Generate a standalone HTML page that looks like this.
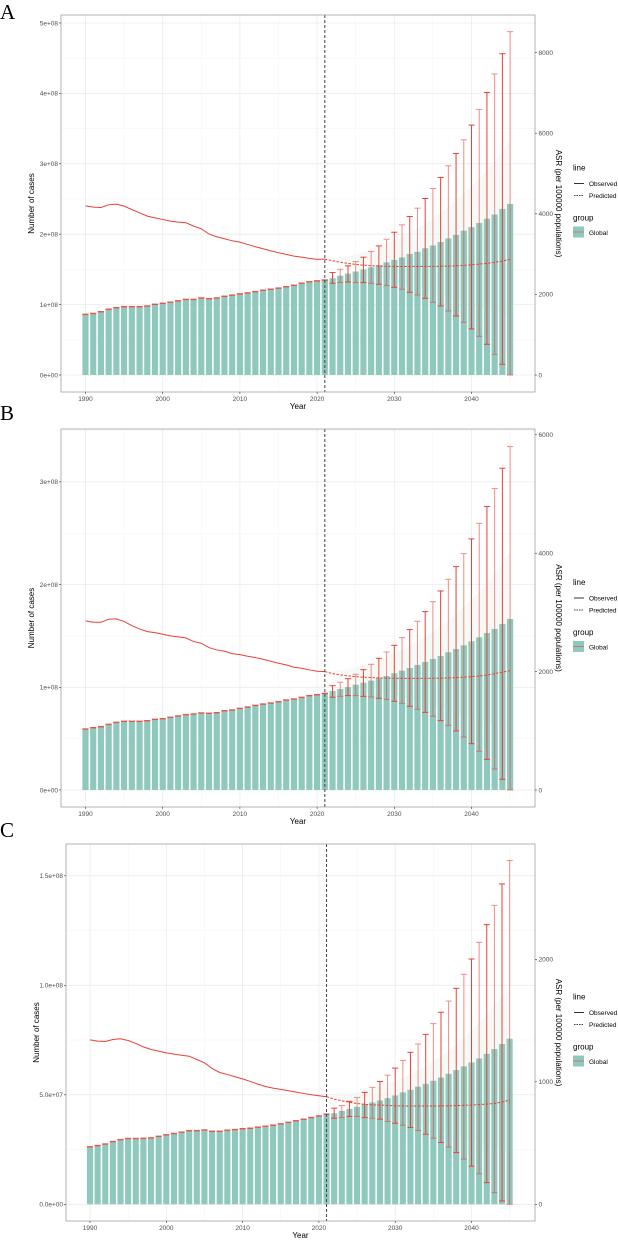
<!DOCTYPE html>
<html><head><meta charset="utf-8">
<style>
html,body{margin:0;padding:0;background:#fff;}
svg{display:block;font-family:"Liberation Sans",sans-serif;}
.pl{font-family:"Liberation Serif",serif;font-size:21px;fill:#000;}
</style></head>
<body>
<svg id="fig" width="618" height="1240" viewBox="0 0 618 1240">
<text class="pl" x="0" y="19">A</text>
<text class="pl" x="0" y="420">B</text>
<text class="pl" x="0" y="837">C</text>
</svg>
<script>
const years = [];
for (let y = 1990; y <= 2045; y++) years.push(y);
const predYears = [];
for (let y = 2022; y <= 2045; y++) predYears.push(y);
const xTicks = [1990, 2000, 2010, 2020, 2030, 2040];

// Panel A (cases in 1e8, ASR per 100000)
const casesA = [0.857,0.87,0.895,0.93,0.952,0.967,0.967,0.967,0.976,1.0,1.014,1.03,1.05,1.07,1.07,1.09,1.08,1.09,1.114,1.13,1.148,1.162,1.18,1.2,1.214,1.23,1.25,1.27,1.3,1.32,1.333,1.345,1.375,1.41,1.44,1.47,1.5,1.53,1.56,1.6,1.635,1.67,1.72,1.75,1.8,1.84,1.89,1.94,1.99,2.05,2.1,2.16,2.22,2.28,2.36,2.43];
const upperA = [1.455,1.502,1.55,1.611,1.673,1.754,1.834,1.929,2.028,2.133,2.251,2.37,2.507,2.649,2.806,2.972,3.147,3.341,3.55,3.773,4.014,4.275,4.564,4.877];
const lowerA = [1.303,1.313,1.322,1.313,1.313,1.303,1.289,1.27,1.246,1.218,1.175,1.137,1.09,1.033,0.981,0.91,0.839,0.749,0.654,0.55,0.436,0.294,0.152,0];
const asrA = [4198,4165,4157,4223,4240,4190,4107,4025,3942,3900,3860,3818,3793,3777,3694,3628,3496,3430,3380,3330,3297,3240,3182,3132,3083,3033,2992,2950,2926,2893,2868,2876];
const asrPredA = [2835,2800,2770,2745,2725,2712,2704,2698,2695,2693,2692,2692,2693,2695,2698,2703,2710,2720,2735,2752,2772,2796,2830,2870];
const ribUpA = [2950,3000,3050,3110,3180,3260,3340,3430,3530,3640,3760,3890,4030,4180,4340,4510,4690,4880,5080,5300,5540,5830];
const yTicksA = [0,1,2,3,4,5];
const yTickLabA = ["0e+00","1e+08","2e+08","3e+08","4e+08","5e+08"];
const rTicksA = [0,2000,4000,6000,8000];

// Panel B
const casesB = [0.591,0.604,0.614,0.636,0.656,0.666,0.666,0.666,0.672,0.685,0.692,0.705,0.718,0.731,0.737,0.747,0.744,0.75,0.769,0.776,0.792,0.805,0.821,0.834,0.844,0.857,0.873,0.883,0.899,0.916,0.925,0.938,0.964,0.984,1.003,1.026,1.045,1.065,1.088,1.11,1.136,1.162,1.188,1.218,1.247,1.276,1.305,1.341,1.373,1.409,1.448,1.487,1.529,1.568,1.617,1.666];
const upperB = [1.016,1.049,1.084,1.127,1.172,1.224,1.282,1.344,1.409,1.484,1.562,1.643,1.737,1.834,1.938,2.052,2.175,2.302,2.445,2.597,2.76,2.935,3.133,3.344];
const lowerB = [0.903,0.912,0.919,0.919,0.912,0.906,0.893,0.88,0.864,0.844,0.815,0.786,0.756,0.718,0.675,0.63,0.575,0.516,0.451,0.377,0.299,0.205,0.104,0];
const asrB = [2856,2834,2834,2885,2890,2845,2777,2721,2676,2659,2631,2603,2586,2569,2507,2479,2406,2366,2344,2304,2287,2259,2237,2208,2175,2141,2113,2073,2056,2028,2006,2000];
const asrPredB = [1966,1945,1928,1915,1906,1899,1893,1890,1887,1886,1885,1885,1886,1887,1889,1892,1899,1906,1915,1926,1940,1966,1990,2017];
const ribUpB = [2040,2075,2110,2150,2200,2250,2310,2370,2440,2510,2590,2680,2770,2870,2980,3100,3220,3350,3500,3660,3840,4028];
const yTicksB = [0,1,2,3];
const yTickLabB = ["0e+00","1e+08","2e+08","3e+08"];
const rTicksB = [0,2000,4000,6000];

// Panel C (cases in 1e7)
const casesC = [2.61,2.67,2.74,2.85,2.94,2.99,2.99,3.0,3.02,3.09,3.16,3.22,3.28,3.35,3.35,3.38,3.32,3.32,3.37,3.4,3.44,3.46,3.51,3.55,3.6,3.66,3.73,3.8,3.87,3.95,4.02,4.1,4.16,4.27,4.36,4.45,4.56,4.65,4.74,4.85,4.97,5.11,5.23,5.37,5.5,5.64,5.79,5.96,6.13,6.3,6.48,6.66,6.87,7.09,7.32,7.56];
const upperC = [4.39,4.51,4.7,4.88,5.11,5.34,5.61,5.9,6.22,6.57,6.94,7.32,7.76,8.25,8.77,9.28,9.86,10.5,11.2,11.96,12.77,13.65,14.63,15.7];
const lowerC = [3.93,3.96,4.01,4.01,3.96,3.93,3.89,3.78,3.7,3.61,3.51,3.37,3.2,3.02,2.82,2.61,2.36,2.06,1.74,1.39,0.99,0.53,0.15,0];
const asrC = [1342,1332,1329,1345,1351,1337,1313,1285,1264,1250,1236,1226,1217,1209,1182,1155,1109,1076,1060,1041,1024,1003,981,962,948,938,927,916,905,894,886,878];
const asrPredC = [859,845,833,823,816,812,810,807,804,803,802,802,802,802,803,804,806,808,810,814,818,823,835,851];
const ribUpC = [900,915,930,945,965,985,1010,1035,1065,1095,1130,1170,1210,1255,1305,1360,1420,1485,1555,1630,1700,1761];
const yTicksC = [0,5,10,15];
const yTickLabC = ["0.0e+00","5.0e+07","1.0e+08","1.5e+08"];
const rTicksC = [0,1000,2000];

const NS = "http://www.w3.org/2000/svg";
const svg = document.getElementById("fig");
function mk(tag, attrs, parent) {
  const e = document.createElementNS(NS, tag);
  for (const k in attrs) e.setAttribute(k, attrs[k]);
  (parent || svg).appendChild(e);
  return e;
}

function panel(cfg, cases, upper, lower, asr, asrPred, ribUp, yTicks, yLab, rTicks, key) {
  const g = mk("g", {});
  
  
  const X = y => cfg.x1990 + (y - 1990) * cfg.pxYear;
  const YL = v => cfg.y0 - v * cfg.pxLeft;
  const YR = v => cfg.y0 - v * cfg.pxRight;
  const grid = mk("g", {}, g);
  
  
  for (let yr = 1985; yr <= 2045; yr += 10) {
    const x = X(yr);
    if (x > cfg.left && x < cfg.right) mk("line", {x1:x, x2:x, y1:cfg.top, y2:cfg.bottom, stroke:"#f3f3f3", "stroke-width":0.5}, grid);
  }
  for (let i = 0; i < yTicks.length; i++) {
    const ym = YL(yTicks[i] + (yTicks[1] - yTicks[0]) / 2);
    if (ym > cfg.top) mk("line", {x1:cfg.left, x2:cfg.right, y1:ym, y2:ym, stroke:"#f3f3f3", "stroke-width":0.5}, grid);
  }
  xTicks.forEach(yr => { const x = X(yr); mk("line", {x1:x, x2:x, y1:cfg.top, y2:cfg.bottom, stroke:"#ebebeb", "stroke-width":0.8}, grid); });
  yTicks.forEach(v => { const y = YL(v); mk("line", {x1:cfg.left, x2:cfg.right, y1:y, y2:y, stroke:"#ebebeb", "stroke-width":0.8}, grid); });

  let pts = [];
  pts.push(X(2021) + "," + YR(asr[asr.length - 1]));
  for (let i = 0; i < ribUp.length; i++) pts.push(X(2024 + i) + "," + YR(ribUp[i]));
  pts.push(X(2045) + "," + YR(asrPred[asrPred.length - 1] * 0.5));
  pts.push(X(2021) + "," + YR(asr[asr.length - 1]));
  const rib = mk("polygon", {points:pts.join(" "), fill:"#eef6f1", opacity:0.55}, g);
  
  

  const bw = cfg.pxYear * 0.8;
  for (let i = 0; i < years.length; i++) {
    const yt = YL(cases[i]);
    const b = mk("rect", {x:X(years[i]) - bw / 2, y:yt, width:bw, height:cfg.y0 - yt, fill:"#8fc9be"}, g);
    
    
    if (years[i] <= 2021) {
      const c = mk("rect", {x:X(years[i]) - bw / 2, y:yt - 1, width:bw, height:1.4, fill:"#e8413b", opacity:0.9}, g);
      
      
    }
  }
  for (let i = 0; i < predYears.length; i++) {
    const x = X(predYears[i]);
    const eg = mk("g", {stroke:"#e8413b", "stroke-width":1, opacity:(i % 2 ? 0.6 : 1)}, g);
    
    
    const yu = YL(upper[i]), yl = YL(lower[i]);
    mk("line", {x1:x, x2:x, y1:yu, y2:yl}, eg);
    mk("line", {x1:x - bw / 2, x2:x + bw / 2, y1:yu, y2:yu}, eg);
    mk("line", {x1:x - bw / 2, x2:x + bw / 2, y1:yl, y2:yl}, eg);
  }
  let d = "";
  for (let i = 0; i < asr.length; i++) d += (i ? "L" : "M") + X(1990 + i) + "," + YR(asr[i]);
  const lo = mk("path", {d:d, fill:"none", stroke:"#e8413b", "stroke-width":1}, g);
  
  
  d = "M" + X(2021) + "," + YR(asr[asr.length - 1]);
  for (let i = 0; i < asrPred.length; i++) d += "L" + X(predYears[i]) + "," + YR(asrPred[i]);
  const lp = mk("path", {d:d, fill:"none", stroke:"#e8413b", "stroke-width":1, "stroke-dasharray":"2.5,1.5"}, g);
  
  
  const vl = mk("line", {x1:X(2021), x2:X(2021), y1:cfg.top, y2:cfg.bottom, stroke:"#444", "stroke-width":1, "stroke-dasharray":"3,2"}, g);
  
  
  const br = mk("rect", {x:cfg.left, y:cfg.top, width:cfg.right - cfg.left, height:cfg.bottom - cfg.top, fill:"none", stroke:"#a0a0a0", "stroke-width":0.8}, g);
  
  
  const ts = {"font-size":6.5, fill:"#4d4d4d"};
  xTicks.forEach(yr => {
    const x = X(yr);
    mk("line", {x1:x, x2:x, y1:cfg.bottom, y2:cfg.bottom + 2, stroke:"#333", "stroke-width":0.6}, g);
    const t = mk("text", Object.assign({x:x, y:cfg.bottom + 9, "text-anchor":"middle"}, ts), g);
    t.textContent = yr;
    
    
  });
  yTicks.forEach((v, i) => {
    const y = YL(v);
    mk("line", {x1:cfg.left - 2, x2:cfg.left, y1:y, y2:y, stroke:"#333", "stroke-width":0.6}, g);
    const t = mk("text", Object.assign({x:cfg.left - 3, y:y + 2.3, "text-anchor":"end"}, ts), g);
    t.textContent = yLab[i];
    
    
  });
  rTicks.forEach(v => {
    const y = YR(v);
    mk("line", {x1:cfg.right, x2:cfg.right + 2, y1:y, y2:y, stroke:"#333", "stroke-width":0.6}, g);
    const t = mk("text", Object.assign({x:cfg.right + 3.5, y:y + 2.3}, ts), g);
    t.textContent = v;
    
    
  });
  const mid = (cfg.top + cfg.bottom) / 2;
  const xl = mk("text", {x:(cfg.left + cfg.right) / 2, y:cfg.bottom + 17, "text-anchor":"middle", "font-size":8, fill:"#000"}, g);
  xl.textContent = "Year";
  
  
  const yl = mk("text", {x:0, y:0, transform:"translate(" + (cfg.left - 27) + "," + mid + ") rotate(-90)", "text-anchor":"middle", "font-size":8, fill:"#000"}, g);
  yl.textContent = "Number of cases";
  
  
  const rl = mk("text", {x:0, y:0, transform:"translate(" + (cfg.right + 21) + "," + mid + ") rotate(90)", "text-anchor":"middle", "font-size":8, fill:"#000"}, g);
  rl.textContent = "ASR (per 100000 populations)";
  
  
  const lg = mk("g", {transform:"translate(573," + (mid - 33) + ")"}, g);
  
  
  let t = mk("text", {x:0, y:0, "font-size":8, fill:"#000"}, lg); t.textContent = "line";
  mk("line", {x1:1, x2:11, y1:13, y2:13, stroke:"#000", "stroke-width":0.8}, lg);
  t = mk("text", {x:16, y:15.5, "font-size":6.5, fill:"#000"}, lg); t.textContent = "Observed";
  
  
  mk("line", {x1:1, x2:11, y1:25, y2:25, stroke:"#000", "stroke-width":0.8, "stroke-dasharray":"1.5,1"}, lg);
  t = mk("text", {x:16, y:27.5, "font-size":6.5, fill:"#000"}, lg); t.textContent = "Predicted";
  
  
  t = mk("text", {x:0, y:50, "font-size":8, fill:"#000"}, lg); t.textContent = "group";
  mk("rect", {x:0, y:56, width:11, height:11, fill:"#8fc9be"}, lg);
  mk("line", {x1:0, x2:11, y1:61.5, y2:61.5, stroke:"#e8413b", "stroke-width":0.8, opacity:0.7}, lg);
  t = mk("text", {x:16, y:64.5, "font-size":6.5, fill:"#000"}, lg); t.textContent = "Global";
  
  
}

panel({left:61, right:535, top:15, bottom:392, x1990:85.5, pxYear:7.72, y0:375, pxLeft:70.4, pxRight:80.6/2000},
  casesA, upperA, lowerA, asrA, asrPredA, ribUpA, yTicksA, yTickLabA, rTicksA, "a");
panel({left:61, right:535, top:429, bottom:807, x1990:85.5, pxYear:7.72, y0:790, pxLeft:102.7, pxRight:118.4/2000},
  casesB, upperB, lowerB, asrB, asrPredB, ribUpB, yTicksB, yTickLabB, rTicksB, "b");
panel({left:66, right:535, top:844, bottom:1221, x1990:90, pxYear:7.63, y0:1204.3, pxLeft:109.5/5, pxRight:122.5/1000},
  casesC, upperC, lowerC, asrC, asrPredC, ribUpC, yTicksC, yTickLabC, rTicksC, "c");
</script>
</body></html>
